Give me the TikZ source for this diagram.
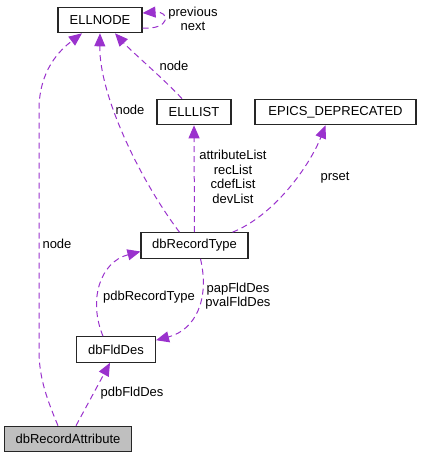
\documentclass[tikz,border=0pt]{standalone}
\usepackage{fontspec}
\setmainfont{Liberation Sans}
\usepackage{tikz}
\usetikzlibrary{arrows.meta}
\definecolor{linkcol}{HTML}{9A32CD}
\definecolor{boxgray}{HTML}{BFBFBF}

\begin{document}
\begin{tikzpicture}[x=1pt, y=-1pt, every node/.style={font=\fontsize{13}{14.5}\selectfont, inner sep=0pt}]
        \tikzset{box/.style={draw=black!85, line width=1.1pt, rectangle, minimum height=25.5pt}}
        \useasboundingbox (0,0) rectangle (421,459);
        \node[box, minimum width=84pt] (ellnode) at (100, 20) {ELLNODE};
        \node[box, minimum width=74pt] (elllist) at (194, 112) {ELLLIST};
        \node[box, minimum width=161pt] (epicsdep) at (335.5, 112) {EPICS\_DEPRECATED};
        \node[box, minimum width=107pt] (rectype) at (194.5, 245.5) {dbRecordType};
        \node[box, minimum width=79pt] (flddes) at (116, 349.5) {dbFldDes};
        \node[box, minimum width=127pt, fill=boxgray] (recattr) at (68, 439) {dbRecordAttribute};
        % links
        \tikzset{link/.style={-{Triangle[length=13pt,width=11pt,fill=linkcol]}, draw=linkcol, line width=1pt, dash pattern=on 6pt off 4pt}}
        \tikzset{lbl/.style={align=center, text=black}}
        \draw[link] ([yshift=-8pt]ellnode.east) .. controls +(28,2) and +(28,-2) .. ([yshift=7pt]ellnode.east);
        \draw[link] ([xshift=-12pt]elllist.north) .. controls (165,80) and (132,52) .. ([xshift=15pt]ellnode.south);
        \draw[link] ([xshift=-15pt]rectype.north) .. controls (140,180) and (99,95) .. (ellnode.south);
        \draw[link] (rectype.north) -- (elllist.south);
        \draw[link] ([xshift=38pt]rectype.north) .. controls (275,215) and (310,165) .. ([xshift=-10pt]epicsdep.south);
        \draw[link] ([xshift=6pt]rectype.south) .. controls (210,300) and (195,330) .. ([yshift=-4pt]flddes.north east);
        \draw[link] ([xshift=-13pt]flddes.north) .. controls (88,300) and (100,262) .. ([yshift=-6pt]rectype.west);
        \draw[link] ([xshift=8pt]recattr.north) -- ([xshift=-6pt]flddes.south);
        \draw[link] ([xshift=-10pt]recattr.north) .. controls (45,395) and (39,375) .. (39,350) -- (39,110) .. controls (39,70) and (60,50) .. ([xshift=-18pt]ellnode.south);
        % labels
        \node[lbl] (lprev) at (193, 19) {previous\\next};
        \node[lbl] (lnodea) at (174, 66) {node};
        \node[lbl] (lnodeb) at (130, 110) {node};
        \node[lbl] (llists) at (233, 177) {attributeList\\recList\\cdefList\\devList};
        \node[lbl] (lprset) at (335, 178) {prset};
        \node[lbl] (lpdbrt) at (149, 297) {pdbRecordType};
        \node[lbl] (lpap) at (238, 296) {papFldDes\\pvalFldDes};
        \node[lbl] (lpdbfd) at (132, 393) {pdbFldDes};
        \node[lbl] (lnodec) at (57, 244) {node};
      \end{tikzpicture}
\end{document}
